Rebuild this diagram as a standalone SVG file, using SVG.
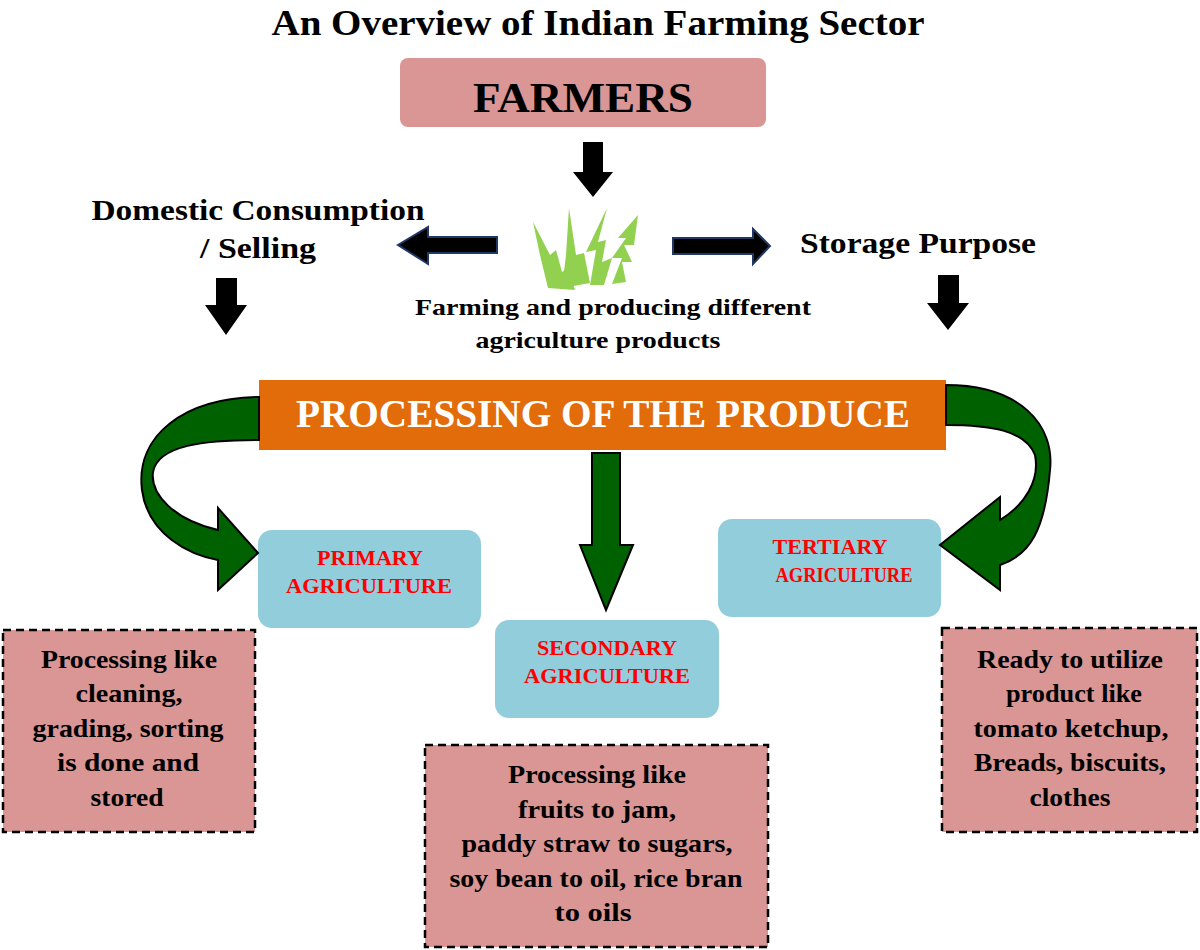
<svg xmlns="http://www.w3.org/2000/svg" width="1200" height="950" viewBox="0 0 1200 950">
<style>
.t{font-family:"Liberation Serif",serif;font-weight:bold;text-anchor:middle;fill:#000}
.red{font-family:"Liberation Serif",serif;font-weight:bold;text-anchor:middle;fill:#ff0000;font-size:20px}
.d{font-size:25px}
.blk{fill:#000}
.nav{fill:#000;stroke:#1f3864;stroke-width:2}
.grn{fill:#006100;stroke:#000;stroke-width:2}
.blue{fill:#92cddc}
.dash{fill:#d99694;stroke:#000;stroke-width:2.5;stroke-dasharray:8,5}
.leaf{fill:#92d050}
</style>
<rect width="1200" height="950" fill="#fff"/>
<text class="t" x="598" y="35" font-size="35" textLength="653" lengthAdjust="spacingAndGlyphs">An Overview of Indian Farming Sector</text>
<g id="farmers"><rect x="400" y="58" width="366" height="69" rx="8" fill="#d99694"/><text class="t" x="583" y="112" font-size="42" textLength="220" lengthAdjust="spacingAndGlyphs">FARMERS</text></g>
<g id="farming">
<polygon class="leaf" points="533,222 550,255 556,250 562,272 568,268 575,290 548,288 540,255"/>
<polygon class="leaf" points="569,208 576,255 584,253 590,283 562,288 566,255"/>
<polygon class="leaf" points="607,208 598,242 606,240 602,262 612,258 604,285 590,285 596,250 586,252"/>
<polygon class="leaf" points="638,215 618,238 626,238 612,258 622,258 612,284 626,282 622,262 632,262 624,245 634,245"/>
<text class="t" x="613" y="315" font-size="23" textLength="396" lengthAdjust="spacingAndGlyphs">Farming and producing different</text>
<text class="t" x="598" y="348" font-size="23" textLength="245" lengthAdjust="spacingAndGlyphs">agriculture products</text>
</g>
<g id="domestic"><text class="t" x="258" y="220" font-size="29" textLength="333" lengthAdjust="spacingAndGlyphs">Domestic Consumption</text><text class="t" x="258" y="258" font-size="29" textLength="116" lengthAdjust="spacingAndGlyphs">/ Selling</text></g>
<g id="storage"><text class="t" x="918" y="253" font-size="29" textLength="236" lengthAdjust="spacingAndGlyphs">Storage Purpose</text></g>
<g id="processing"><rect x="259" y="380" width="687" height="70" fill="#e36c0a"/><text x="603" y="427" font-family="Liberation Serif,serif" font-weight="bold" font-size="39" fill="#fff" text-anchor="middle" textLength="614" lengthAdjust="spacingAndGlyphs">PROCESSING OF THE PRODUCE</text></g>
<g id="primary"><rect class="blue" x="258" y="530" width="223" height="98" rx="14"/><text class="red" x="370" y="565" textLength="106" lengthAdjust="spacingAndGlyphs">PRIMARY</text><text class="red" x="369" y="593" textLength="166" lengthAdjust="spacingAndGlyphs">AGRICULTURE</text></g>
<g id="secondary"><rect class="blue" x="495" y="620" width="224" height="98" rx="14"/><text class="red" x="607" y="655" textLength="140" lengthAdjust="spacingAndGlyphs">SECONDARY</text><text class="red" x="607" y="683" textLength="166" lengthAdjust="spacingAndGlyphs">AGRICULTURE</text></g>
<g id="tertiary"><rect class="blue" x="718" y="519" width="223" height="98" rx="14"/><text class="red" x="830" y="554" textLength="115" lengthAdjust="spacingAndGlyphs">TERTIARY</text><text class="red" x="844" y="582" textLength="137" lengthAdjust="spacingAndGlyphs">AGRICULTURE</text></g>
<g id="desc1"><rect class="dash" x="3" y="630" width="252" height="202"/>
<text class="t d" x="129" y="668" textLength="176" lengthAdjust="spacingAndGlyphs">Processing like</text><text class="t d" x="129" y="702" textLength="107" lengthAdjust="spacingAndGlyphs">cleaning,</text><text class="t d" x="128" y="737" textLength="191" lengthAdjust="spacingAndGlyphs">grading, sorting</text><text class="t d" x="128" y="771" textLength="142" lengthAdjust="spacingAndGlyphs">is done and</text><text class="t d" x="127" y="806" textLength="73" lengthAdjust="spacingAndGlyphs">stored</text></g>
<g id="desc2"><rect class="dash" x="425" y="745" width="343" height="202"/>
<text class="t d" x="597" y="783" textLength="178" lengthAdjust="spacingAndGlyphs">Processing like</text><text class="t d" x="597" y="818" textLength="158" lengthAdjust="spacingAndGlyphs">fruits to jam,</text><text class="t d" x="597" y="852" textLength="271" lengthAdjust="spacingAndGlyphs">paddy straw to sugars,</text><text class="t d" x="596" y="887" textLength="293" lengthAdjust="spacingAndGlyphs">soy bean to oil, rice bran</text><text class="t d" x="593" y="921" textLength="77" lengthAdjust="spacingAndGlyphs">to oils</text></g>
<g id="desc3"><rect class="dash" x="942" y="628" width="255" height="204"/>
<text class="t d" x="1070" y="668" textLength="186" lengthAdjust="spacingAndGlyphs">Ready to utilize</text><text class="t d" x="1074" y="702" textLength="136" lengthAdjust="spacingAndGlyphs">product like</text><text class="t d" x="1071" y="737" textLength="195" lengthAdjust="spacingAndGlyphs">tomato ketchup,</text><text class="t d" x="1070" y="771" textLength="192" lengthAdjust="spacingAndGlyphs">Breads, biscuits,</text><text class="t d" x="1070" y="806" textLength="81" lengthAdjust="spacingAndGlyphs">clothes</text></g>
<g id="connectors">
<polygon class="blk" points="583,142 603,142 603,172 613,172 593,197 573,172 583,172"/>
<polygon class="nav" points="497,237 428,237 428,227 398,245 428,264 428,253 497,253"/>
<polygon class="nav" points="673,238 753,238 753,229 770,246 753,264 753,254 673,254"/>
<polygon class="blk" points="216,278 237,278 237,305 247,305 226,335 205,305 216,305"/>
<polygon class="blk" points="938,275 959,275 959,303 969,303 948,330 927,303 938,303"/>
<polygon class="grn" points="592,453 620,453 620,545 633,545 606,610 580,545 592,545"/>
<path class="grn" d="M259,397 C185,398 135,435 142,490 C148,535 190,555 218,560 L218,590 L258,553 L218,508 L218,530 C175,520 150,495 153,472 C158,445 205,440 259,440 Z"/>
<path class="grn" d="M946,385 C1020,385 1055,425 1050,470 C1045,530 1030,555 1000,565 L1000,590 L940,545 L1000,497 L1000,520 C1025,505 1040,480 1035,455 C1025,430 990,425 946,425 Z"/>
</g>
</svg>
